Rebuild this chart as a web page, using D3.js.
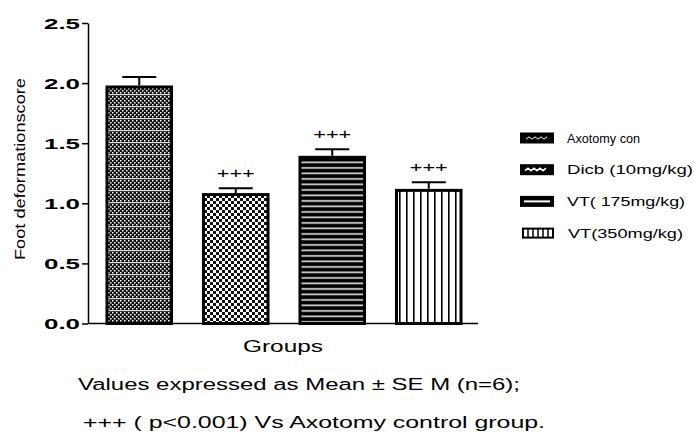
<!DOCTYPE html>
<html>
<head>
<meta charset="utf-8">
<script src="https://cdn.jsdelivr.net/npm/d3@7"></script>
<style>
  html, body { margin: 0; padding: 0; background: #fff; }
  svg { display: block; }
  text { font-family: "Liberation Sans", Arial, sans-serif; fill: #000; }
</style>
</head>
<body>
<svg id="chart" width="694" height="437"></svg>
<script>
// Group names as shown in the legend
const groups = ["Axotomy con", "Dicb (10mg/kg)", "VT( 175mg/kg)", "VT(350mg/kg)"];
// Mean foot deformation score and SEM per group
const means = [1.98, 1.085, 1.395, 1.12];
const sems = [0.07, 0.04, 0.055, 0.055];
// Significance markers above each bar
const marks = ["", "+++", "+++", "+++"];
const yTicks = [0, 0.5, 1.0, 1.5, 2.0, 2.5];
const notes = ["Values expressed as Mean \u00b1 SE M (n=6);", "+++ ( p<0.001) Vs Axotomy control group."];

const svg = d3.select("#chart");
const defs = svg.append("defs");

// Fill patterns for each group
const pats = ["p0", "p1", "p2", "p3"];
{
  // fine dotted pattern
  const p0 = defs.append("pattern").attr("id", "p0").attr("patternUnits", "userSpaceOnUse")
    .attr("width", 4).attr("height", 12);
  p0.append("rect").attr("width", 4).attr("height", 12).attr("fill", "#111");
  [[0,0],[2,2],[0,4],[2,6],[0,8]].forEach(([x, y]) =>
    p0.append("rect").attr("x", x).attr("y", y).attr("width", 1.5).attr("height", 1.5).attr("fill", "#fff"));
  p0.append("rect").attr("x", 0).attr("y", 10).attr("width", 4).attr("height", 1.2).attr("fill", "#ddd");

  // coarse checker
  const p1 = defs.append("pattern").attr("id", "p1").attr("patternUnits", "userSpaceOnUse")
    .attr("width", 6).attr("height", 6);
  p1.append("rect").attr("width", 6).attr("height", 6).attr("fill", "#fff");
  p1.append("rect").attr("x", 0).attr("y", 0).attr("width", 3).attr("height", 3).attr("fill", "#111");
  p1.append("rect").attr("x", 3).attr("y", 3).attr("width", 3).attr("height", 3).attr("fill", "#111");

  // horizontal stripes
  const p2 = defs.append("pattern").attr("id", "p2").attr("patternUnits", "userSpaceOnUse")
    .attr("width", 6).attr("height", 5.5);
  p2.append("rect").attr("width", 6).attr("height", 5.5).attr("fill", "#000");
  p2.append("rect").attr("x", 0).attr("y", 2).attr("width", 6).attr("height", 1.8).attr("fill", "#ccc");

  // vertical lines
  const p3 = defs.append("pattern").attr("id", "p3").attr("patternUnits", "userSpaceOnUse")
    .attr("width", 7).attr("height", 6);
  p3.append("rect").attr("width", 7).attr("height", 6).attr("fill", "#fff");
  p3.append("rect").attr("x", 0).attr("y", 0).attr("width", 1.6).attr("height", 6).attr("fill", "#000");
}

const x0 = 88, x1 = 478;
const y = d3.scaleLinear().domain([0, 2.5]).range([323.5, 23]);
const x = d3.scaleBand().domain(groups).range([x0 + 3, x0 + 3 + 4 * 96.5]).paddingInner(0.3).paddingOuter(0.15);

// Y axis
const yAxis = svg.append("g").attr("transform", `translate(${x0},0)`)
  .call(d3.axisLeft(y).tickValues(yTicks).tickFormat(d3.format(".1f")).tickSize(6).tickSizeOuter(0));
yAxis.select(".domain").attr("stroke", "#000").attr("stroke-width", 1.5);
yAxis.selectAll(".tick line").attr("stroke", "#000").attr("stroke-width", 1.5);
yAxis.selectAll(".tick text").attr("x", -8).attr("dy", "0.36em")
  .attr("textLength", 36).attr("lengthAdjust", "spacingAndGlyphs")
  .style("font-size", "15px").style("font-weight", "bold")
  .style("font-family", "'Liberation Sans', Arial, sans-serif");

// X axis baseline
svg.append("line").attr("x1", x0).attr("x2", x1).attr("y1", y(0)).attr("y2", y(0))
  .attr("stroke", "#000").attr("stroke-width", 1.5);

// Bars
const bars = svg.append("g");
groups.forEach((g, i) => {
  const bx = x(g), bw = x.bandwidth();
  bars.append("rect").attr("x", bx + 1.5).attr("y", y(means[i]) + 1.5)
    .attr("width", bw - 3).attr("height", y(0) - y(means[i]) - 1.5)
    .attr("fill", `url(#${pats[i]})`).attr("stroke", "#000").attr("stroke-width", 3);
  // error bar (upper)
  const cx = bx + bw / 2;
  bars.append("line").attr("x1", cx).attr("x2", cx).attr("y1", y(means[i])).attr("y2", y(means[i] + sems[i]))
    .attr("stroke", "#000").attr("stroke-width", 2);
  bars.append("line").attr("x1", cx - 17).attr("x2", cx + 17)
    .attr("y1", y(means[i] + sems[i])).attr("y2", y(means[i] + sems[i]))
    .attr("stroke", "#000").attr("stroke-width", 2);
  if (marks[i]) {
    bars.append("text").attr("x", cx - 19).attr("y", y(means[i] + sems[i]) - 10)
      .attr("textLength", 38).attr("lengthAdjust", "spacingAndGlyphs")
      .style("font-size", "15px").style("fill", "#000").text(marks[i]);
  }
});

// Y axis title
svg.append("text").attr("transform", "translate(25,260) rotate(-90)")
  .attr("textLength", 182).attr("lengthAdjust", "spacingAndGlyphs")
  .style("font-size", "14px").text("Foot deformationscore");

// X axis title
svg.append("text").attr("x", 243).attr("y", 352)
  .attr("textLength", 80).attr("lengthAdjust", "spacingAndGlyphs")
  .style("font-size", "16px").text("Groups");

// Notes
svg.append("text").attr("x", 78).attr("y", 390)
  .attr("textLength", 442).attr("lengthAdjust", "spacingAndGlyphs")
  .style("font-size", "16px").text(notes[0]);
svg.append("text").attr("x", 83).attr("y", 428)
  .attr("textLength", 462).attr("lengthAdjust", "spacingAndGlyphs")
  .style("font-size", "16px").text(notes[1]);

// Legend: small swatches, each a black chip with its own light motif
const legendLen = [73, 126, 118, 115];
const lg = svg.append("g");
groups.forEach((g, i) => {
  const ly = 138 + i * 31.7;
  const sx = i === 3 ? 523 : 521;
  const sw = 553 - sx;
  lg.append("rect").attr("x", sx).attr("y", ly - 4.5).attr("width", sw).attr("height", 9)
    .attr("fill", i === 3 ? "#fff" : "#000").attr("stroke", "#000").attr("stroke-width", 2);
  if (i === 0) {
    lg.append("path").attr("d", d3.range(sx + 5, sx + sw - 5, 3).map((v, k) => `${k ? "L" : "M"}${v},${ly + (k % 2 ? -1.2 : 1.2)}`).join(""))
      .attr("fill", "none").attr("stroke", "#fff").attr("stroke-width", 1);
  } else if (i === 1) {
    lg.append("path").attr("d", d3.range(sx + 4, sx + sw - 4, 3).map((v, k) => `${k ? "L" : "M"}${v},${ly + (k % 2 ? -1.5 : 1)}`).join(""))
      .attr("fill", "none").attr("stroke", "#fff").attr("stroke-width", 1.6);
  } else if (i === 2) {
    lg.append("line").attr("x1", sx + 3).attr("x2", sx + sw - 3).attr("y1", ly).attr("y2", ly)
      .attr("stroke", "#fff").attr("stroke-width", 2);
  } else {
    d3.range(sx + 5, sx + sw - 1, 5).forEach(v =>
      lg.append("line").attr("x1", v).attr("x2", v).attr("y1", ly - 4.5).attr("y2", ly + 4.5)
        .attr("stroke", "#000").attr("stroke-width", 1.5));
  }
  lg.append("text").attr("x", i === 3 ? 568 : 567).attr("y", ly + 4.5)
    .attr("textLength", legendLen[i]).attr("lengthAdjust", "spacingAndGlyphs")
    .style("font-size", "12.5px").text(g);
});
</script>
</body>
</html>
